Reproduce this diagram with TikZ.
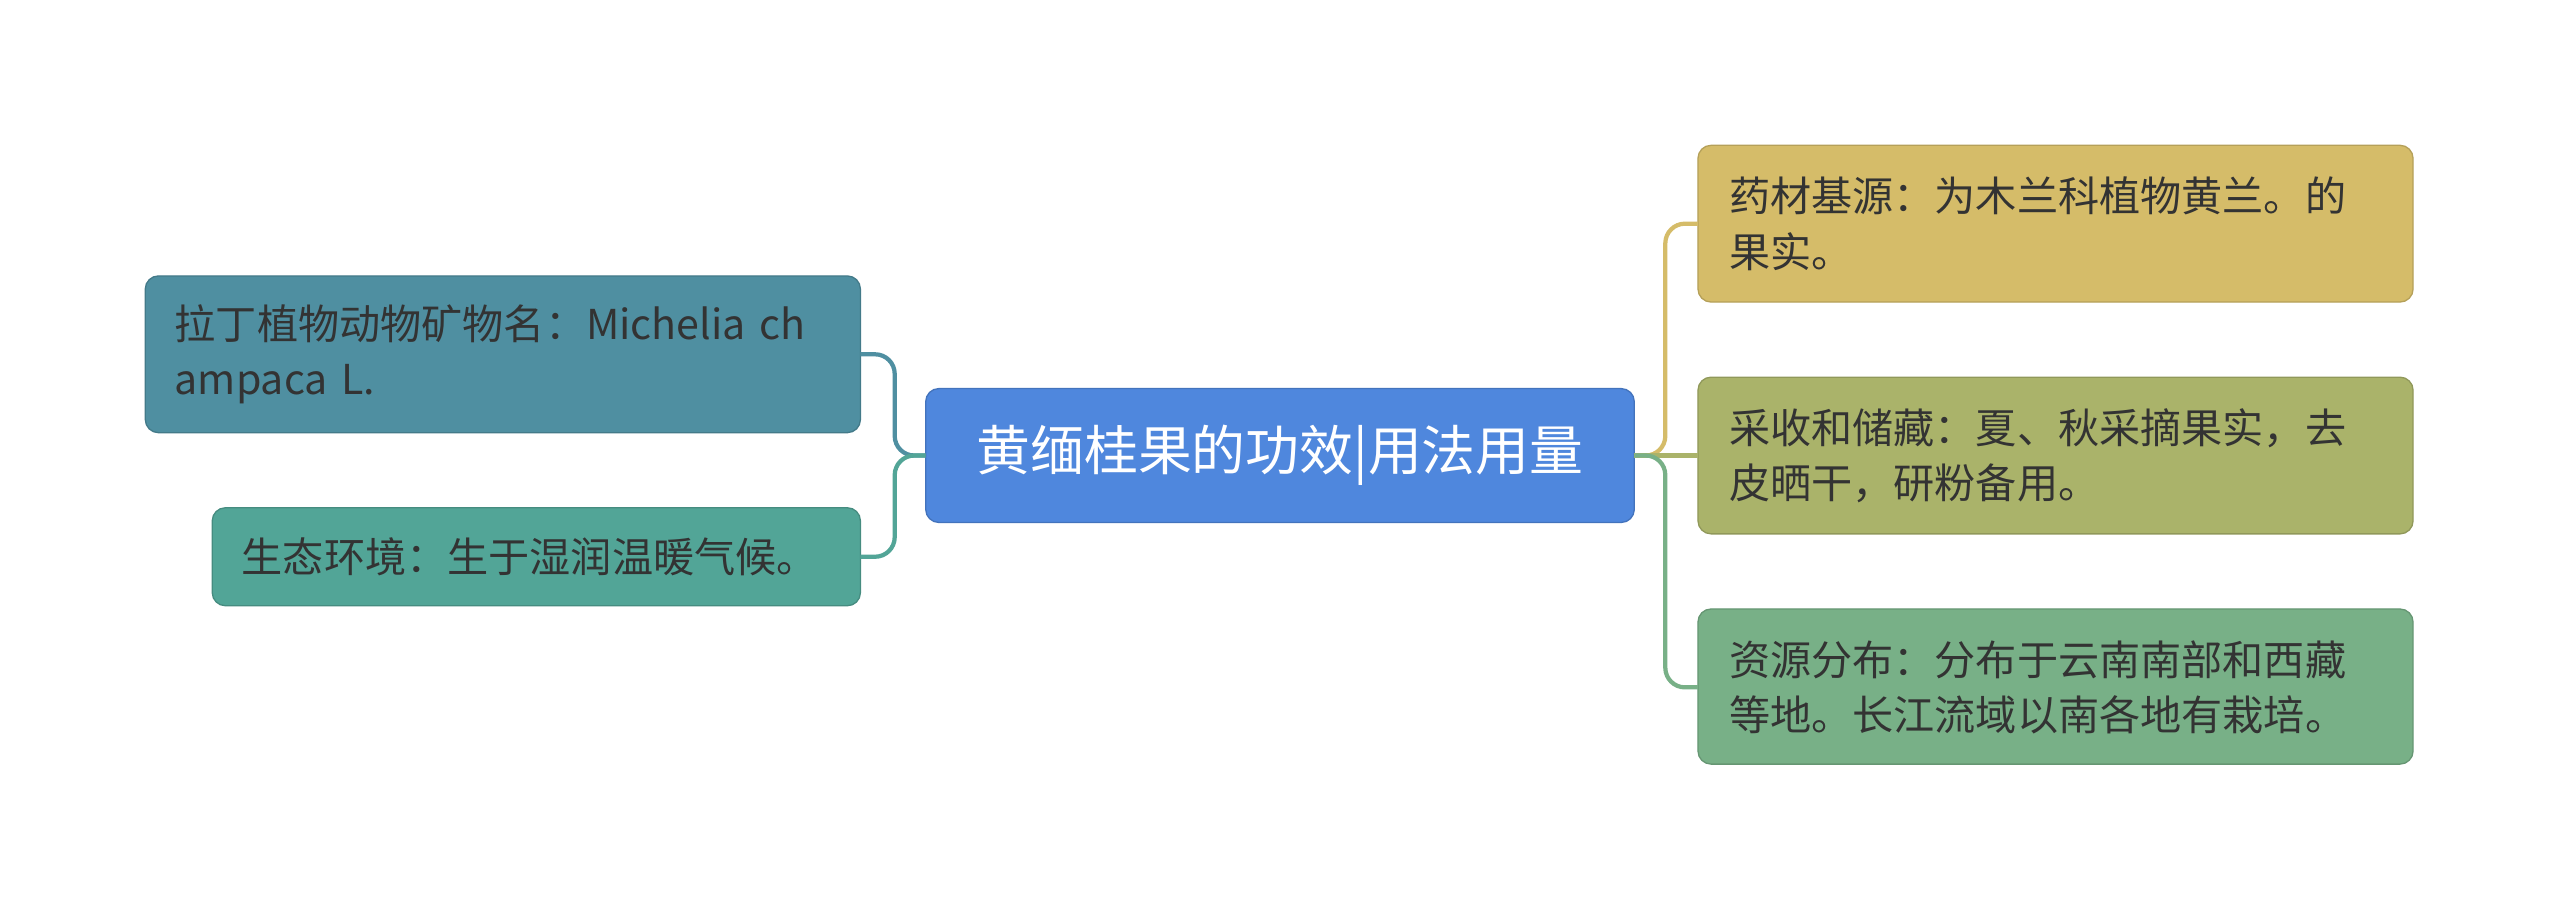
\documentclass[tikz,border=0pt]{standalone}
\usepackage{fontspec}
\setmainfont{Noto Sans CJK SC}
\begin{document}
\begin{tikzpicture}[x=0.5pt,y=-0.5pt,
 box/.style={rounded corners=4pt,draw=#1!85!black,line width=0.4pt,fill=#1,inner sep=0pt},
 lbl/.style={font=\fontsize{12.6pt}{17pt}\selectfont,text=black!80,align=left,anchor=west},
 con/.style={line width=1.3pt,rounded corners=6pt}]
\useasboundingbox (0,0) rectangle (1568,558);
\definecolor{cb}{HTML}{4F87DD}
\definecolor{l1}{HTML}{4F8FA1}
\definecolor{l2}{HTML}{52A597}
\definecolor{r1}{HTML}{D5BC69}
\definecolor{r2}{HTML}{AAB36A}
\definecolor{r3}{HTML}{78B087}
\path[box=cb] (567,238) rectangle (1001,320);
\node[font=\fontsize{16.5pt}{20pt}\selectfont,text=white] (c) at (784,279) {黄缅桂果的功效|用法用量};
\coordinate (cl) at (567,279); \coordinate (cr) at (1001,279);
\path[box=l1] (89,169) rectangle (527,265);
\node[lbl,text width=210pt] (a) at (100,217) {拉丁植物动物矿物名：Michelia ch\\ampaca L.};
\path[box=l2] (130,311) rectangle (527,371);
\node[lbl] (b) at (141,341) {生态环境：生于湿润温暖气候。};
\path[box=r1] (1040,89) rectangle (1478,185);
\node[lbl,text width=210pt] (d) at (1052,137) {药材基源：为木兰科植物黄兰。的\\果实。};
\path[box=r2] (1040,231) rectangle (1478,327);
\node[lbl,text width=210pt] (e) at (1052,279) {采收和储藏：夏、秋采摘果实，去\\皮晒干，研粉备用。};
\path[box=r3] (1040,373) rectangle (1478,468);
\node[lbl,text width=210pt] (f) at (1052,421) {资源分布：分布于云南南部和西藏\\等地。长江流域以南各地有栽培。};
\coordinate (al) at (527,217); \coordinate (bl) at (527,341);
\coordinate (dl) at (1040,137); \coordinate (el) at (1040,279); \coordinate (fl) at (1040,421);
\draw[con,l1] (cl) -- (548,279) |- (al);
\draw[con,l2] (cl) -- (548,279) |- (bl);
\draw[con,r1] (cr) -- (1020,279) |- (dl);
\draw[con,r2] (cr) -- (el);
\draw[con,r3] (cr) -- (1020,279) |- (fl);
\end{tikzpicture}
\end{document}
